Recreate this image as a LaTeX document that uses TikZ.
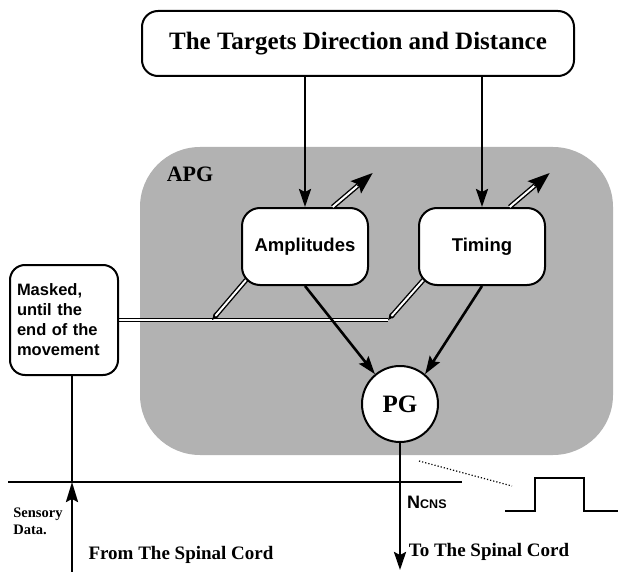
\documentclass[tikz,border=0pt]{standalone}
\usepackage{fontspec}
\setmainfont{Liberation Serif}
\setsansfont{Liberation Sans}
\usetikzlibrary{arrows.meta}

\pgfdeclarelayer{shade}
\pgfdeclarelayer{wires}
\pgfsetlayers{shade,wires,main}

\begin{document}
\begin{tikzpicture}[x=1pt,y=-1pt,>={Stealth[length=18pt,width=12pt,inset=3pt]},
    node distance=177pt,
    wire/.style={line width=2.6pt},
    box/.style={draw,fill=white,rounded corners=18pt,line width=2pt,
        minimum width=126pt,minimum height=77pt,
        font=\sffamily\bfseries\fontsize{18.5}{20}\selectfont},
    dbl/.style={double,double distance=2pt,line width=1.4pt},
    head/.style={line width=2pt,-{Stealth[length=22pt,width=16pt,inset=4pt]}},
    lab/.style={font=\bfseries\fontsize{19}{21}\selectfont}]

  \useasboundingbox (0,0) rectangle (618,572);
  \begin{pgfonlayer}{shade}
    \fill[black!30,rounded corners=60pt] (140,147) rectangle (613,455);
  \end{pgfonlayer}

  \node[draw,fill=white,rounded corners=16pt,line width=2pt,minimum width=432pt,
        minimum height=65pt,font=\bfseries\fontsize{25}{27}\selectfont]
        (goal) at (358,43.5) {The Targets Direction and Distance};
  \node[box] (amp) at (305,246.5) {Amplitudes};
  \node[box] (tim) [right of=amp] {Timing};
  \node[draw,fill=white,rounded corners=15pt,line width=2pt,minimum width=108pt,
        minimum height=110pt,text width=94pt,inner sep=7pt,align=left,
        font=\sffamily\bfseries\fontsize{16.5}{20}\selectfont]
        (mask) at (64,320) {Masked,\\until the\\end of the\\movement};
  \node[draw,circle,fill=white,line width=2pt,minimum size=76pt,inner sep=0pt,
        font=\bfseries\fontsize{25}{27}\selectfont] (pg) at (400,404) {PG};

  \node[font=\bfseries\fontsize{22}{24}\selectfont] (apg) at (190,174) {APG};
  \node[align=left,font=\bfseries\fontsize{14.5}{17}\selectfont] (sens) at (38,521) {Sensory\\Data.};
  \node[lab] (from) at (181,555) {From The Spinal Cord};
  \node[lab] (to) at (489,552) {To The Spinal Cord};
  \node[anchor=base west,inner sep=0pt,font=\sffamily\bfseries\fontsize{18}{20}\selectfont]
        (ncns) at (407,508) {N\fontsize{12.5}{14}\selectfont CNS};

  \coordinate (cordL) at (8,482);
  \coordinate (cordR) at (462,482);
  \coordinate (sensIn) at (72,572);
  \coordinate (pgOut) at (400,570);
  \coordinate (jA) at (212,320);
  \coordinate (jT) at (388,320);
  \coordinate (dotA) at (419,461);
  \coordinate (dotB) at (512,486);

  \draw[wire,->] (goal.south -| amp.north) -- (amp.north);
  \draw[wire,->] (goal.south -| tim.north) -- (tim.north);
  \draw[wire,->] (amp.south) -- (pg.130);
  \draw[wire,->] (tim.south) -- (pg.50);
  \draw[wire,->] (pg.south) -- (pgOut);

  \draw[dbl,shorten >=16pt] (amp.55) -- ++(40,-34) coordinate[pos=0.62] (ampMid) coordinate (ampUp);
  \draw[dbl,shorten >=16pt] (tim.55) -- ++(40,-34) coordinate[pos=0.62] (timMid) coordinate (timUp);
  \draw[head] (ampMid) -- (ampUp);
  \draw[head] (timMid) -- (timUp);

  \begin{pgfonlayer}{wires}
    \draw[dbl] (mask.east) -- (jT);
    \draw[dbl,shorten <=-8pt,-{Stealth[length=7pt,width=6pt]}] (amp.south west) -- (jA);
    \draw[dbl,shorten <=-8pt,-{Stealth[length=7pt,width=6pt]}] (tim.south west) -- (jT);
  \end{pgfonlayer}

  \draw[line width=2pt] (cordL) -- (cordR);
  \draw[wire,-{Stealth[length=20pt,width=12pt,inset=3pt]}] (sensIn) -- (sensIn |- cordL);
  \draw[wire] (sensIn |- cordL) -- (sensIn |- mask.south);
  \draw[dotted,line width=1.2pt] (dotA) -- (dotB);
  \draw[line width=2pt] (505,511) -- (535,511) -- (535,478) -- (584,478) -- (584,511) -- (618,511);
\end{tikzpicture}
\end{document}
